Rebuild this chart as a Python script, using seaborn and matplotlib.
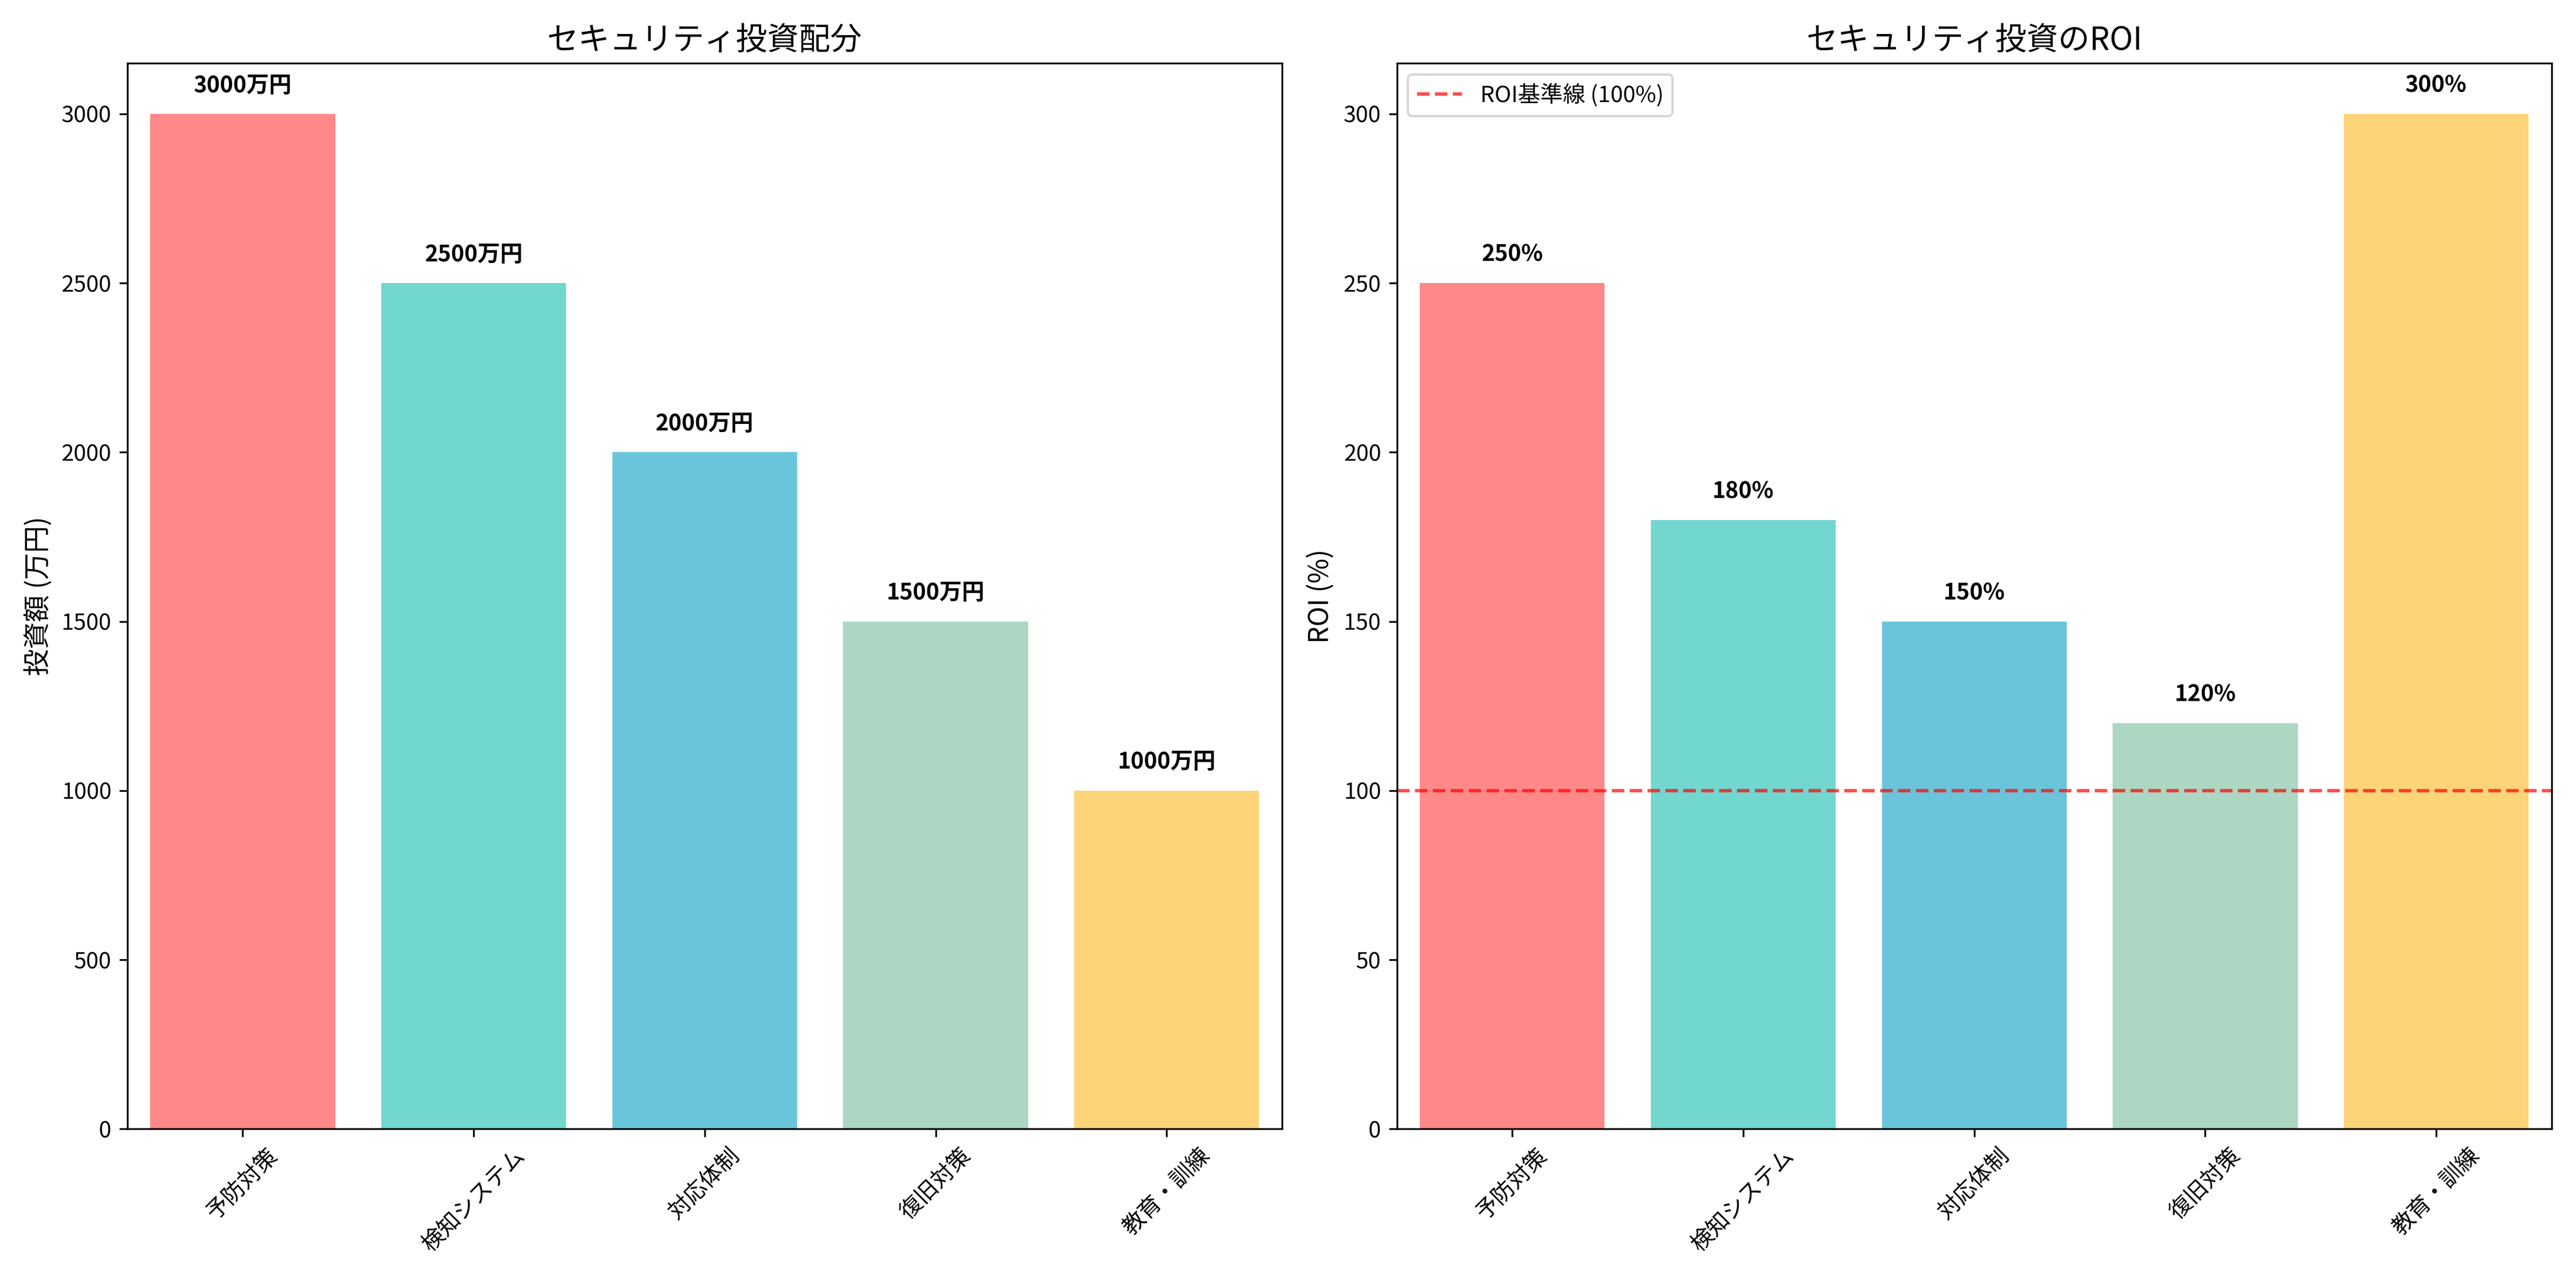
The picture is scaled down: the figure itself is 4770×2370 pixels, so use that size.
import matplotlib
matplotlib.use("Agg")
import matplotlib.pyplot as plt
import seaborn as sns
import pandas as pd

plt.rcParams['font.family'] = ['Noto Sans CJK JP', 'DejaVu Sans']

categories = ['予防対策', '検知システム', '対応体制', '復旧対策', '教育・訓練']
investment = [3000, 2500, 2000, 1500, 1000]
roi = [250, 180, 150, 120, 300]
colors = ['#FF6B6B', '#4ECDC4', '#45B7D1', '#96CEB4', '#FECA57']

df = pd.DataFrame({'cat': categories, 'inv': investment, 'roi': roi})

fig, (ax1, ax2) = plt.subplots(1, 2, figsize=(15.9, 7.9), dpi=300)

sns.barplot(data=df, x='cat', y='inv', hue='cat', palette=colors, alpha=0.8,
            width=0.8, legend=False, ax=ax1, saturation=1)
ax1.set_title('セキュリティ投資配分', fontsize=14)
ax1.set_ylabel('投資額 (万円)', fontsize=12)
ax1.set_xlabel('')
ax1.tick_params(axis='x', rotation=45)
for i, v in enumerate(investment):
    ax1.text(i, v + 50, f'{v}万円', ha='center', va='bottom', fontweight='bold', fontsize=10)

sns.barplot(data=df, x='cat', y='roi', hue='cat', palette=colors, alpha=0.8,
            width=0.8, legend=False, ax=ax2, saturation=1)
ax2.axhline(100, color='red', linestyle='--', alpha=0.7, label='ROI基準線 (100%)')
ax2.set_title('セキュリティ投資のROI', fontsize=14)
ax2.set_ylabel('ROI (%)', fontsize=12)
ax2.set_xlabel('')
ax2.tick_params(axis='x', rotation=45)
ax2.legend(loc='upper left')
for i, v in enumerate(roi):
    ax2.text(i, v + 5, f'{v}%', ha='center', va='bottom', fontweight='bold', fontsize=10)

plt.tight_layout()
plt.savefig('out.png', dpi=300)
